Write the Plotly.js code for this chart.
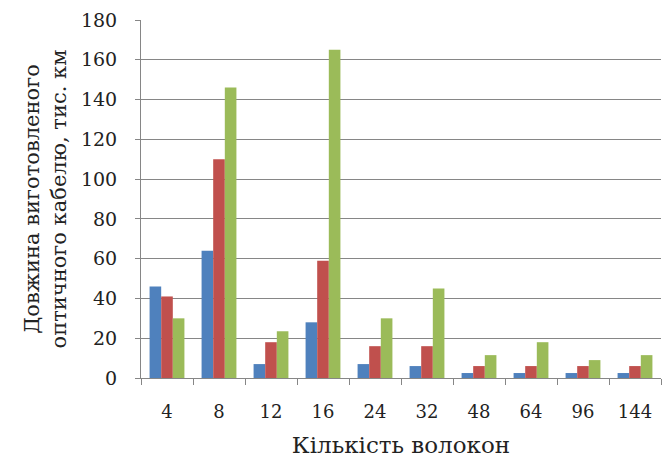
<!DOCTYPE html>
<html>
<head>
<meta charset="utf-8">
<script src="https://cdn.plot.ly/plotly-3.0.1.min.js"></script>
<style>
  html, body { margin: 0; padding: 0; background: #fff; }
  #chart { width: 662px; height: 463px; }
</style>
</head>
<body>
<div id="chart"></div>
<script>
// Fibre counts per cable (category axis)
const fibreCounts = ['4', '8', '12', '16', '24', '32', '48', '64', '96', '144'];

// Length of manufactured optical cable, thousand km, three series
const seriesBlue  = [46, 64, 7, 28, 7, 6, 2.5, 2.5, 2.5, 2.5];
const seriesRed   = [41, 110, 18, 59, 16, 16, 6, 6, 6, 6];
const seriesGreen = [30, 146, 23.5, 165, 30, 45, 11.5, 18, 9, 11.5];

const yTicks = [0, 20, 40, 60, 80, 100, 120, 140, 160, 180];

const wideSerif = '"DejaVu Serif", serif';

const mk = (y, color) => ({
  type: 'bar',
  x: fibreCounts,
  y: y,
  marker: { color: color, line: { width: 0 } },
  hoverinfo: 'x+y'
});

const data = [
  mk(seriesBlue, '#4F81BD'),
  mk(seriesRed, '#C0504D'),
  mk(seriesGreen, '#9BBB59')
];

const layout = {
  width: 662,
  height: 463,
  margin: { l: 141, r: 1, t: 20, b: 85 },
  paper_bgcolor: '#fff',
  plot_bgcolor: '#fff',
  showlegend: false,
  barmode: 'group',
  bargap: 0.33,
  bargroupgap: 0,
  font: { family: wideSerif, size: 19, color: '#222' },
  xaxis: {
    type: 'category',
    tickson: 'boundaries',
    ticks: 'outside',
    ticklen: 6,
    tickcolor: '#868686',
    showline: true,
    linecolor: '#868686',
    linewidth: 1,
    showgrid: false,
    ticklabelstandoff: 17,
    tickfont: { family: wideSerif, size: 18, color: '#222' },
    title: { text: 'Кількість волокон', font: { family: wideSerif, size: 23, color: '#222' }, standoff: 16 }
  },
  yaxis: {
    range: [0, 180],
    tickvals: yTicks,
    ticks: 'outside',
    ticklen: 5,
    tickcolor: '#868686',
    showline: true,
    linecolor: '#868686',
    linewidth: 1,
    showgrid: true,
    gridcolor: '#868686',
    gridwidth: 1,
    zeroline: false,
    ticklabelstandoff: 14,
    tickfont: { family: wideSerif, size: 19, color: '#222' },
    title: {
      text: 'Довжина виготовленого<br>оптичного кабелю, тис. км',
      font: { family: wideSerif, size: 21, color: '#222' },
      standoff: 8
    }
  }
};

Plotly.newPlot('chart', data, layout, { displayModeBar: false, staticPlot: true });
</script>
</body>
</html>
